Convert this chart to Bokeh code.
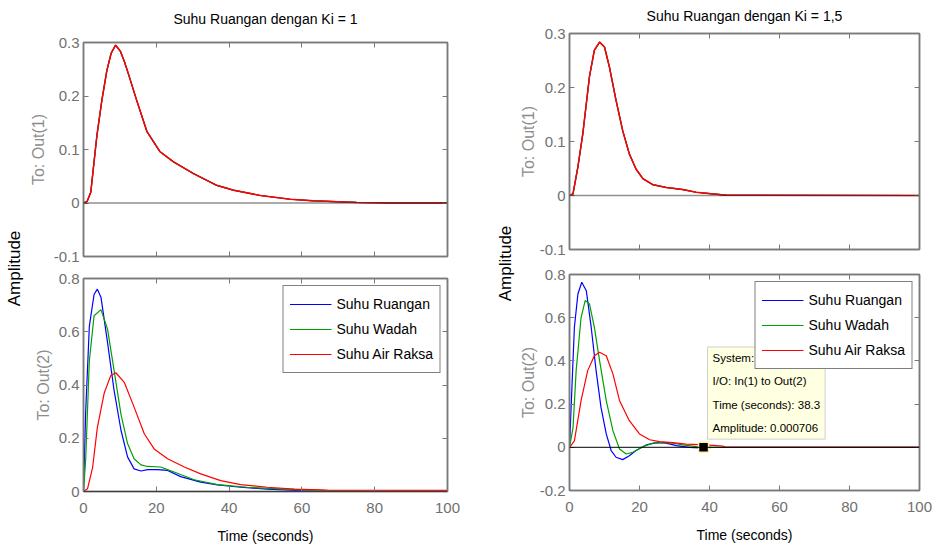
import math
from bokeh.plotting import figure
from bokeh.layouts import row, column
from bokeh.models import (LinearAxis, FixedTicker, Range1d, Label, Legend,
                          LegendItem, Span)
from bokeh.embed import file_html
from bokeh.resources import INLINE

# ---------------- data ----------------
titles = ["Suhu Ruangan dengan Ki = 1", "Suhu Ruangan dengan Ki = 1,5"]
series_names = ["Suhu Ruangan", "Suhu Wadah", "Suhu Air Raksa"]
series_colors = ["#0000ff", "#00a000", "#ff0000"]

x_ticks = [0, 20, 40, 60, 80, 100]
x_tick_labels = ["0", "20", "40", "60", "80", "100"]
y_ticks_out1 = [-0.1, 0, 0.1, 0.2, 0.3]
y_tick_labels_out1 = ["-0.1", "0", "0.1", "0.2", "0.3"]
y_ticks_out2_k1 = [0, 0.2, 0.4, 0.6, 0.8]
y_tick_labels_out2_k1 = ["0", "0.2", "0.4", "0.6", "0.8"]
y_ticks_out2_k15 = [-0.2, 0, 0.2, 0.4, 0.6, 0.8]
y_tick_labels_out2_k15 = ["-0.2", "0", "0.2", "0.4", "0.6", "0.8"]

# Ki = 1, output 1 (all three series coincide)
t_k1_out1 = [0, 1, 2, 2.9, 3.7, 5, 6.4, 7.6, 8.8, 10.1, 11.2, 12.4, 14.7, 17.4, 21,
             24.7, 30.2, 36.6, 41.2, 48.6, 56.8, 63.2, 75, 85, 100]
y_k1_out1 = [0, 0.003, 0.02, 0.077, 0.127, 0.19, 0.247, 0.28, 0.295, 0.284, 0.265,
             0.24, 0.19, 0.134, 0.096, 0.077, 0.055, 0.033, 0.024, 0.014, 0.007,
             0.004, 0.001, 0.0, 0.0]

# Ki = 1, output 2
t_k1_ruangan = [0, 0.6, 1.6, 2.9, 3.8, 4.8, 6.6, 8.4, 10.3, 12.1, 13.9, 15.8, 17.6,
                20.3, 23.1, 26.7, 32.2, 36.8, 43.2, 50.5, 59.7, 70, 100]
y_k1_ruangan = [0, 0.30, 0.62, 0.74, 0.76, 0.73, 0.56, 0.38, 0.23, 0.13, 0.085,
                0.077, 0.082, 0.082, 0.079, 0.056, 0.035, 0.025, 0.016, 0.009,
                0.003, 0.001, 0.001]
t_k1_wadah = [0, 0.6, 1.6, 2.9, 4.8, 6.6, 8.4, 10.3, 12.1, 13.9, 15.8, 17.6, 21.2,
              24.9, 30.4, 36.8, 45, 55.1, 66.1, 80, 100]
y_k1_wadah = [0, 0.12, 0.49, 0.66, 0.683, 0.61, 0.455, 0.29, 0.18, 0.123, 0.10,
              0.094, 0.092, 0.073, 0.044, 0.026, 0.016, 0.009, 0.004, 0.002, 0.002]
t_k1_raksa = [0, 1.1, 2.5, 3.8, 5.7, 7.5, 8.9, 11.2, 13.9, 16.7, 19.4, 23.1, 27.7,
              32.2, 37.7, 43.2, 50.5, 57.9, 67, 100]
y_k1_raksa = [0, 0.01, 0.09, 0.24, 0.37, 0.436, 0.446, 0.41, 0.317, 0.217, 0.16,
              0.123, 0.092, 0.066, 0.041, 0.026, 0.016, 0.009, 0.005, 0.004]

# Ki = 1.5, output 1
t_k15_out1 = [0, 1, 2.4, 3.8, 5.7, 7.1, 8.6, 10, 11.4, 13.3, 15.2, 17.1, 19, 21,
              23.8, 27.6, 32.4, 36.2, 41, 44.8, 100]
y_k15_out1 = [0, 0.003, 0.053, 0.114, 0.22, 0.269, 0.284, 0.275, 0.238, 0.176,
              0.12, 0.077, 0.049, 0.031, 0.02, 0.015, 0.011, 0.006, 0.003, 0.0006, 0]

# Ki = 1.5, output 2
t_k15_ruangan = [0, 0.8, 1.4, 2.4, 3.5, 4.8, 6.2, 7.6, 9.0, 10.5, 11.9, 13.3, 15.2,
                 17.1, 19, 21.9, 24.8, 27.6, 30.5, 34.3, 37.1, 41, 45, 100]
y_k15_ruangan = [0, 0.32, 0.556, 0.71, 0.764, 0.725, 0.556, 0.355, 0.185, 0.062,
                 -0.015, -0.046, -0.057, -0.039, -0.015, 0.011, 0.022, 0.019, 0.008,
                 0.0, -0.003, -0.001, 0, 0]
t_k15_wadah = [0, 1, 1.9, 3.3, 4.5, 5.7, 7.1, 8.6, 10.5, 12.4, 14.3, 16.2, 18.1, 21,
               23.8, 26.7, 29.5, 32.4, 36.2, 41, 100]
y_k15_wadah = [0, 0.09, 0.355, 0.6, 0.68, 0.664, 0.556, 0.40, 0.216, 0.077, -0.008,
               -0.031, -0.023, 0.003, 0.019, 0.023, 0.019, 0.011, 0.003, 0, 0]
t_k15_raksa = [0, 1.4, 3.3, 5.2, 7.1, 8.6, 10.5, 12.4, 14.3, 17.1, 20, 22.9, 25.7,
               29.5, 33.3, 37.1, 41, 43.8, 44.5, 100]
y_k15_raksa = [0, 0.03, 0.216, 0.355, 0.424, 0.44, 0.424, 0.34, 0.216, 0.123, 0.062,
               0.035, 0.026, 0.022, 0.015, 0.012, 0.009, 0.006, 0.0, 0.0]

# data tip
tip_time = 38.3
tip_amp = 0.000706
tip_lines = ["System:", "I/O: In(1) to Out(2)", "Time (seconds): 38.3",
             "Amplitude: 0.000706"]

# ---------------- style ----------------
SANS = "Liberation Sans"
AX = "#7a7a7a"
TICK_TXT = "#707070"
YLAB_TXT = "#8c8c8c"


def make_fig(fw, fh, bl, br, bt, bb, yr, yticks, ylabels, ylab, show_x,
             ylab_standoff, xl_standoff=10, xt_standoff=8, title=None,
             title_standoff=10):
    p = figure(frame_width=fw, frame_height=fh, min_border_left=bl,
               min_border_right=br, min_border_top=bt, min_border_bottom=bb,
               x_range=Range1d(0, 100), y_range=Range1d(*yr),
               output_backend="svg", toolbar_location=None,
               background_fill_color="white", border_fill_color="white")
    p.xgrid.visible = False
    p.ygrid.visible = False
    p.outline_line_color = AX
    p.outline_line_width = 1.5

    xa = p.xaxis[0]
    xa.ticker = FixedTicker(ticks=x_ticks, minor_ticks=[])
    xa.major_label_overrides = dict(zip(x_ticks, x_tick_labels))
    xa.major_tick_in = 5
    xa.major_tick_out = 0
    xa.axis_line_color = AX
    xa.axis_line_width = 1.5
    xa.major_tick_line_color = AX
    if show_x:
        xa.major_label_text_font = SANS
        xa.major_label_text_font_size = "15px"
        xa.major_label_text_color = TICK_TXT
        xa.major_label_standoff = xt_standoff
        xa.axis_label = "Time (seconds)"
        xa.axis_label_text_font = SANS
        xa.axis_label_text_font_size = "14px"
        xa.axis_label_text_font_style = "normal"
        xa.axis_label_text_color = "black"
        xa.axis_label_standoff = xl_standoff
    else:
        xa.major_label_text_font_size = "0px"
        xa.major_label_text_color = None
        xa.major_label_standoff = 0

    ya = p.yaxis[0]
    ya.ticker = FixedTicker(ticks=yticks, minor_ticks=[])
    ya.major_label_overrides = dict(zip(yticks, ylabels))
    ya.major_tick_in = 5
    ya.major_tick_out = 0
    ya.axis_line_color = AX
    ya.axis_line_width = 1.5
    ya.major_tick_line_color = AX
    ya.major_label_text_font = SANS
    ya.major_label_text_font_size = "15px"
    ya.major_label_text_color = TICK_TXT
    ya.major_label_standoff = 4
    ya.axis_label = ylab
    ya.axis_label_text_font = SANS
    ya.axis_label_text_font_size = "16px"
    ya.axis_label_text_font_style = "normal"
    ya.axis_label_text_color = YLAB_TXT
    ya.axis_label_standoff = ylab_standoff

    for loc, tk in (("above", x_ticks), ("right", yticks)):
        ax = LinearAxis(ticker=FixedTicker(ticks=tk, minor_ticks=[]),
                        major_label_text_font_size="0px",
                        major_label_text_color=None, major_label_standoff=0,
                        major_tick_in=5, major_tick_out=0, axis_line_color=AX,
                        axis_line_width=1.5, major_tick_line_color=AX)
        if loc == "above" and title is not None:
            ax.axis_label = title
            ax.axis_label_text_font = SANS
            ax.axis_label_text_font_size = "14px"
            ax.axis_label_text_font_style = "normal"
            ax.axis_label_text_color = "black"
            ax.axis_label_standoff = title_standoff
        p.add_layout(ax, loc)
    return p


def amp_fig(w, h, x, y):
    p = figure(width=w, height=h, x_range=Range1d(0, 1), y_range=Range1d(0, 1),
               min_border=0, output_backend="svg", toolbar_location=None,
               x_axis_location=None, y_axis_location=None,
               background_fill_color="white", border_fill_color="white")
    p.outline_line_color = None
    p.xgrid.visible = False
    p.ygrid.visible = False
    p.add_layout(Label(x=x, y=y, x_units="screen", y_units="screen",
                       text="Amplitude", angle=math.pi / 2, text_align="center",
                       text_baseline="middle", text_font=SANS,
                       text_font_size="17px", text_color="black"))
    return p


def add_series(p, data, widths):
    rs = []
    for (t, y), c, w in zip(data, series_colors, widths):
        rs.append(p.line(t, y, line_color=c, line_width=w))
    return rs


def add_legend(p, rs):
    items = [LegendItem(label=n, renderers=[r]) for n, r in zip(series_names, rs)]
    lg = Legend(items=items, location="top_right", margin=7, padding=6, spacing=1,
                glyph_width=42, glyph_height=24, label_height=24, label_standoff=5,
                label_text_font=SANS, label_text_font_size="14px",
                label_text_color="black", border_line_color="black",
                border_line_width=1.5, background_fill_color="white",
                background_fill_alpha=1.0)
    p.add_layout(lg)


# ---------------- left: Ki = 1 ----------------
lt = make_fig(364, 214, 53, 30, 42, 10, (-0.1, 0.3), y_ticks_out1,
              y_tick_labels_out1, "To: Out(1)", False, 4,
              title=titles[0], title_standoff=16)
lt.add_layout(Span(location=0, dimension="width", line_color="#222222",
                   line_width=1.5, line_dash="1 1"))
add_series(lt, [(t_k1_out1, y_k1_out1)] * 3, [1.2, 1.2, 1.5])

lb = make_fig(364, 213, 53, 30, 12, 53, (0, 0.8), y_ticks_out2_k1,
              y_tick_labels_out2_k1, "To: Out(2)", True, 4, 12, 11)
lb.add_layout(Span(location=0, dimension="width", line_color="black",
                   line_width=1))
rs_l = add_series(lb, [(t_k1_ruangan, y_k1_ruangan), (t_k1_wadah, y_k1_wadah),
                       (t_k1_raksa, y_k1_raksa)], [1.2, 1.2, 1.2])
add_legend(lb, rs_l)

# ---------------- right: Ki = 1.5 ----------------
rt = make_fig(350, 216, 49, 14, 33, 11, (-0.1, 0.3), y_ticks_out1,
              y_tick_labels_out1, "To: Out(1)", False, 0,
              title=titles[1], title_standoff=10)
rt.add_layout(Span(location=0, dimension="width", line_color="#222222",
                   line_width=1.5, line_dash="1 1"))
add_series(rt, [(t_k15_out1, y_k15_out1)] * 3, [1.2, 1.2, 1.5])

rb = make_fig(350, 216, 49, 14, 14, 54, (-0.2, 0.8), y_ticks_out2_k15,
              y_tick_labels_out2_k15, "To: Out(2)", True, 0, 12, 11)
rb.add_layout(Span(location=0, dimension="width", line_color="black",
                   line_width=1))
rs_r = add_series(rb, [(t_k15_ruangan, y_k15_ruangan), (t_k15_wadah, y_k15_wadah),
                       (t_k15_raksa, y_k15_raksa)], [1.2, 1.2, 1.2])
rb.add_layout(Label(x=tip_time, y=tip_amp, x_offset=4, y_offset=8,
                    text="\n".join(tip_lines), text_font=SANS,
                    text_font_size="11.5px", text_color="black",
                    text_align="left", text_baseline="bottom",
                    text_line_height=1.95, background_fill_color="#ffffe1",
                    border_line_color="#cfcfcf", border_line_width=1,
                    padding=5))
rb.scatter([tip_time], [tip_amp], marker="square", size=10, fill_color="black",
           line_color="#fff2a8", line_width=1.5)
add_legend(rb, rs_r)

layout = row(amp_fig(26, 543, 14, 275), column(lt, lb),
             amp_fig(39, 543, 28, 280), column(rt, rb))

open("out.html", "w").write(file_html(layout, INLINE))
